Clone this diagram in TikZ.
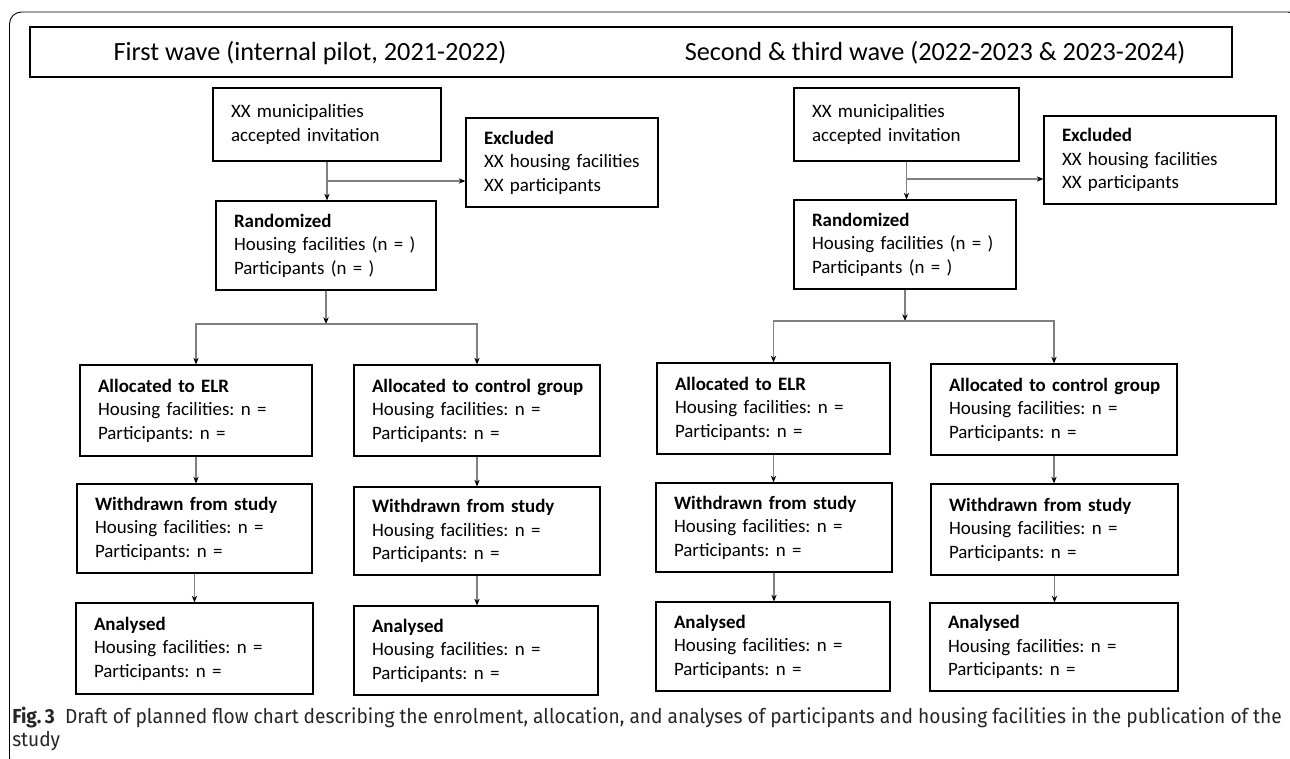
\documentclass[tikz,border=0pt]{standalone}
\usepackage{fontspec}
\setmainfont{Carlito}
\newfontfamily\capfont[FakeStretch=0.945]{Fira Sans}
\usetikzlibrary{arrows.meta,calc}
\tikzset{>={Stealth[length=5pt,width=4pt,color=black]}}
\tikzset{
  box/.style 2 args={draw, line width=0.9pt, text width=#1, minimum height=#2,
    inner xsep=13.5pt, inner ysep=0pt, align=left,
    font=\fontsize{14.2}{17.6}\selectfont},
  headtxt/.style={inner sep=0pt, font=\fontsize{19.7}{22}\selectfont},
  flow/.style={->, draw=black!50, line width=0.8pt},
}
\frenchspacing

\begin{document}
\begin{tikzpicture}[x=0.75pt,y=-0.75pt]
\useasboundingbox (0,0) rectangle (1290,759);

% Frame and header
\draw [line width=0.7pt,rounded corners=9pt] (9.5,12) rectangle (1300,770);
\node[draw, line width=0.9pt, minimum width=901.5pt, minimum height=37.5pt, inner sep=0pt] (head) at (631,52) {};
\node[headtxt] (headL) at (310,53) {First wave (internal pilot, 2021-2022)};
\node[headtxt] (headR) at (935,53) {Second \& third wave (2022-2023 \& 2023-2024)};

% First wave
\node[box={144pt}{54.75pt}] (accL) at (327,124.5) {XX municipalities\\accepted invitation};
\node[box={117pt}{66.75pt}] (excL) at (562,162.5) {\textbf{Excluded}\\\mbox{XX housing facilities}\\XX participants};
\node[box={138pt}{66.75pt}] (randL) at (326,245.5) {\textbf{Randomized}\\Housing facilities (n = )\\Participants (n = )};
\node[box={147pt}{68.25pt}] (elrL) at (196,410.5) {\textbf{Allocated to ELR}\\Housing facilities: n =\\Participants: n =};
\node[box={157.5pt}{68.25pt}] (ctlL) at (477,410.5) {\mbox{\textbf{Allocated to control group}}\\Housing facilities: n =\\Participants: n =};
\node[box={149.25pt}{66.75pt}] (wdL) at (194.5,528.5) {\textbf{Withdrawn from study}\\Housing facilities: n =\\Participants: n =};
\node[box={157.5pt}{66pt}] (wdLc) at (477,531) {\textbf{Withdrawn from study}\\Housing facilities: n =\\Participants: n =};
\node[box={150.75pt}{68.25pt}] (anL) at (194.5,648.5) {\textbf{Analysed}\\Housing facilities: n =\\Participants: n =};
\node[box={156pt}{66.75pt}] (anLc) at (476,650.5) {\textbf{Analysed}\\Housing facilities: n =\\Participants: n =};

% Second & third wave
\node[box={141.75pt}{54.75pt}] (accR) at (906.5,124.5) {XX municipalities\\accepted invitation};
\node[box={147pt}{66pt}] (excR) at (1160,160) {\textbf{Excluded}\\\mbox{XX housing facilities}\\XX participants};
\node[box={139.5pt}{66.75pt}] (randR) at (905,244.5) {\textbf{Randomized}\\Housing facilities (n = )\\Participants (n = )};
\node[box={147.75pt}{68.25pt}] (elrR) at (773.5,408.5) {\textbf{Allocated to ELR}\\Housing facilities: n =\\Participants: n =};
\node[box={157.5pt}{68.25pt}] (ctlR) at (1054,409.5) {\mbox{\textbf{Allocated to control group}}\\Housing facilities: n =\\Participants: n =};
\node[box={150pt}{66.75pt}] (wdR) at (774,527.5) {\textbf{Withdrawn from study}\\Housing facilities: n =\\Participants: n =};
\node[box={158.25pt}{68.25pt}] (wdRc) at (1054.5,529.5) {\textbf{Withdrawn from study}\\Housing facilities: n =\\Participants: n =};
\node[box={148.5pt}{66.75pt}] (anR) at (773,646.5) {\textbf{Analysed}\\Housing facilities: n =\\Participants: n =};
\node[box={159pt}{66pt}] (anRc) at (1054,647) {\textbf{Analysed}\\Housing facilities: n =\\Participants: n =};

% Connectors, first wave
\coordinate (exL) at (accL.south |- 0,181);
\coordinate (brL) at (randL.south |- 0,324);
\draw [flow] (accL.south) -- (accL.south |- randL.north);
\draw [flow] (exL) -- (exL -| excL.west);
\draw [flow] (randL.south) -- (brL);
\draw [flow] (brL) -| (elrL.north);
\draw [flow] (brL) -| (ctlL.north);
\draw [flow] (elrL.south) -- (elrL.south |- wdL.north);
\draw [flow] (ctlL.south) -- (ctlL.south |- wdLc.north);
\draw [flow] (wdL.south) -- (wdL.south |- anL.north);
\draw [flow] (wdLc.south) -- (wdLc.south |- anLc.north);

% Connectors, second & third wave
\coordinate (exR) at (accR.south |- 0,179);
\coordinate (brR) at (randR.south |- 0,321);
\draw [flow] (accR.south) -- (accR.south |- randR.north);
\draw [flow] (exR) -- (exR -| excR.west);
\draw [flow] (randR.south) -- (brR);
\draw [flow] (brR) -| (elrR.north);
\draw [flow] (brR) -| (ctlR.north);
\draw [flow] (elrR.south) -- (elrR.south |- wdR.north);
\draw [flow] (ctlR.south) -- (ctlR.south |- wdRc.north);
\draw [flow] (wdR.south) -- (wdR.south |- anR.north);
\draw [flow] (wdRc.south) -- (wdRc.south |- anRc.north);

% Caption
\node[anchor=base west, inner sep=0pt, align=left, text=black!85,
  font=\capfont\fontsize{15.2}{17.25}\selectfont] (cap) at (12,746)
  {\textbf{Fig.\,3}\ \ Draft of planned flow chart describing the enrolment, allocation, and analyses of participants and housing facilities in the publication of the\\study};
\end{tikzpicture}
\end{document}
